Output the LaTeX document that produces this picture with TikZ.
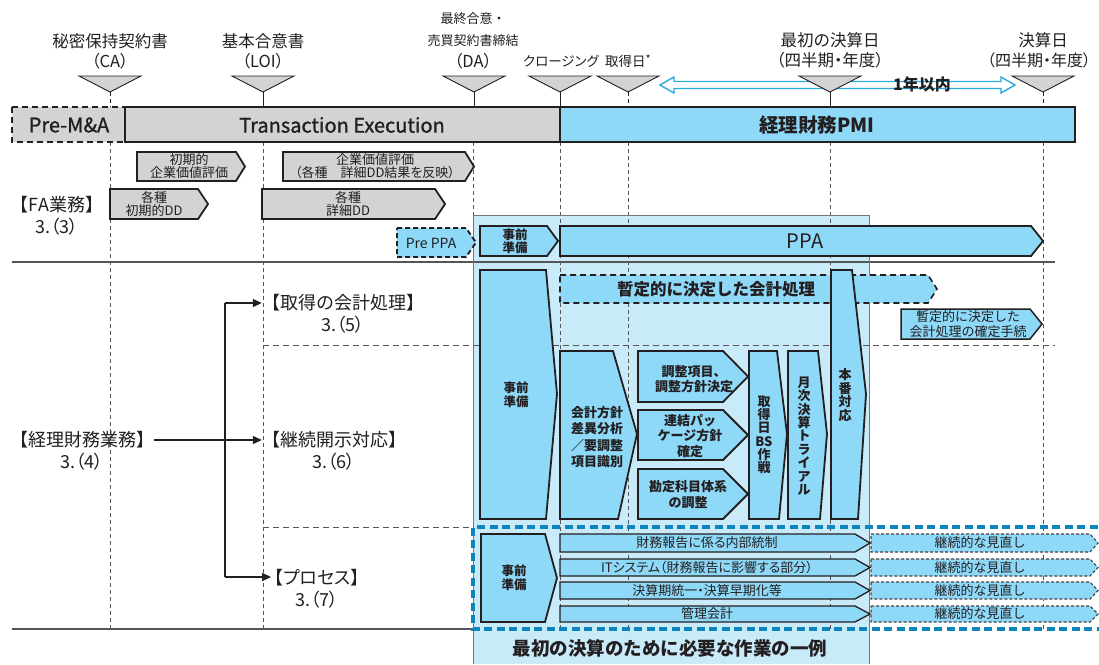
\documentclass[tikz,border=0pt]{standalone}
\usepackage{fontspec}
\setmainfont{Noto Sans CJK JP}
\newfontfamily\medfont{Noto Sans CJK JP}[FakeBold=1.2]
\newfontfamily\pfont{Noto Sans CJK JP}[RawFeature=+palt]
\usetikzlibrary{arrows.meta}
\definecolor{dk}{HTML}{231F20}
\definecolor{gfill}{HTML}{D1D3D4}
\definecolor{bfill}{HTML}{8ED8F8}
\definecolor{lreg}{HTML}{C8EAF9}
\definecolor{framec}{HTML}{0A85BE}
\definecolor{cyanar}{HTML}{29AAE1}
\definecolor{ln}{HTML}{555555}
\newcommand\myfs[2]{\fontsize{#1}{#2}\selectfont}
% pentagon arrow: style, x1, y1, x2(tip), y2, depth
\newcommand\penta[6]{\path[#1] (#2,#3) -- ({#4-#6},#3) -- (#4,{(#3+#5)/2}) -- ({#4-#6},#5) -- (#2,#5) -- cycle;}
\begin{document}
\begin{tikzpicture}[x=1pt,y=-1pt,
  lbl/.style={inner sep=0pt, align=center, text=dk},
  gb/.style={fill=gfill, draw=dk, line width=1.8pt},
  bb/.style={fill=bfill, draw=dk, line width=1.8pt},
  bbt/.style={fill=bfill, draw=dk, line width=1.3pt},
  bbd/.style={fill=bfill, draw=dk, line width=1.9pt, dash pattern=on 5pt off 3pt},
  kz/.style={fill=bfill, draw=dk!85, line width=1.1pt, dash pattern=on 3pt off 2pt},
  vdash/.style={draw=ln, line width=0.9pt, dash pattern=on 4pt off 3pt},
  conn/.style={draw=dk, line width=1.2pt, -{Triangle[length=9pt,width=8pt]}},
  tri/.style={fill=gfill, draw=dk, line width=0.9pt}]
\useasboundingbox (0,0) rectangle (1099,664);
\fill[white] (0,0) rectangle (1099,664);
% light region
\fill[lreg] (473,215) rectangle (869,664);
% vertical dashed lines
\foreach \x in {110,263,560,628,830,1043} \draw[vdash] (\x,142) -- (\x,629);
\draw[vdash] (473,142) -- (473,215);
% horizontal lines
\draw[ln, line width=1.2pt] (12,262) -- (1055,262);
\draw[ln, line width=1.2pt] (12,629) -- (473,629);
\draw[ln, line width=1pt, dash pattern=on 6pt off 4pt] (263,345) -- (1055,345);
\draw[ln, line width=1pt, dash pattern=on 6pt off 4pt] (263,527) -- (473,527);
\draw[ln!80, line width=1pt] (473,664) -- (473,215) -- (869,215) -- (869,664);
% double arrow
\draw[cyanar, line width=1.4pt, fill=white] (660,85) -- (674,77) -- (674,81.5) -- (1001,81.5) -- (1001,77) -- (1015,85) -- (1001,93) -- (1001,88.5) -- (674,88.5) -- (674,93) -- cycle;
\node[lbl, font=\bfseries\myfs{16}{16}] (oneyear) at (922,84) {1年以内};
% triangles
\foreach \x in {110,263,474,560,628,830,1043} \draw[tri] ({\x-31},76) -- ({\x+31},76) -- (\x,92) -- cycle;
\foreach \x in {263,474,560,830} \draw[dk, line width=0.9pt] (\x,92) -- (\x,107);
\foreach \x in {110,628,1043} \draw[dk, line width=0.9pt, dash pattern=on 4pt off 3pt] (\x,92) -- (\x,107);
% header labels
\node[lbl, font=\myfs{16.5}{18}] (ca1) at (110,41) {秘密保持契約書};
\node[lbl, font=\pfont\myfs{16.5}{18}] (ca2) at (110,61) {（CA）};
\node[lbl, font=\myfs{16.5}{18}] (loi1) at (263,41) {基本合意書};
\node[lbl, font=\pfont\myfs{16.5}{18}] (loi2) at (263,61) {（LOI）};
\node[lbl, font=\myfs{13}{14}] (da0) at (473,19) {最終合意・};
\node[lbl, font=\myfs{13}{14}] (da1) at (473,41) {売買契約書締結};
\node[lbl, font=\pfont\myfs{16.5}{18}] (da2) at (473,61) {（DA）};
\node[lbl, font=\pfont\myfs{13.5}{14}] (cl) at (561,61) {クロージング};
\node[lbl, font=\myfs{13.5}{14}] (acq) at (628,61) {取得日\raisebox{3pt}{\myfs{11}{11}*}};
\node[lbl, font=\myfs{16.5}{18}] (fst1) at (830,40) {最初の決算日};
\node[lbl, font=\pfont\myfs{16.5}{18}] (fst2) at (830,60) {（四半期・年度）};
\node[lbl, font=\myfs{16.5}{18}] (fy1) at (1043,40) {決算日};
\node[lbl, font=\pfont\myfs{16}{18}] (fy2) at (1039,60) {（四半期・年度）};
% main bar
\draw[gb, dash pattern=on 6pt off 4pt] (12,107) rectangle (125,142);
\draw[gb] (125,107) rectangle (560,142);
\draw[bb] (560,107) rectangle (1075,142);
\node[lbl, font=\medfont\myfs{20}{20}] (pre) at (69,125) {Pre-M\&A};
\node[lbl, font=\medfont\myfs{20}{20}] (te) at (342,125) {Transaction Execution};
\node[lbl, font=\bfseries\myfs{19.5}{20}] (pmi) at (817,125) {経理財務PMI};
% FA section
\penta{gb}{137}{152}{245}{181}{9}
\penta{gb}{283}{152}{474}{181}{9}
\penta{gb}{110}{189}{208}{219}{10}
\penta{gb}{262}{189}{445}{219}{10}
\penta{bbd}{397}{228}{476}{257}{10}
\penta{bb}{480}{226}{558}{256}{11}
\penta{bb}{560}{226}{1043}{256}{12}
\node[lbl, font=\myfs{13}{13.5}] (fa1) at (189,166) {初期的\\企業価値評価};
\node[lbl, font=\myfs{13}{13.5}] (fa2) at (375,166) {企業価値評価\\{\pfont（各種　詳細DD結果を反映）}};
\node[lbl, font=\myfs{13}{13.5}] (fa3) at (154,204) {各種\\初期的DD};
\node[lbl, font=\myfs{13}{13.5}] (fa4) at (348,204) {各種\\詳細DD};
\node[lbl, font=\myfs{14}{14}] (prepa) at (431,243) {Pre PPA};
\node[lbl, font=\bfseries\myfs{12.5}{13}] (jz1) at (515,241) {事前\\準備};
\node[lbl, font=\myfs{20}{20}] (ppa) at (805,241) {PPA};
\node[lbl, font=\myfs{18}{22}] (fa) at (57,215.5) {【FA業務】\\{\pfont 3.（3）}};
% accounting section shapes
\penta{fill=bfill, draw=dk, line width=1.6pt, dash pattern=on 6pt off 4pt}{560}{275}{937}{303}{9}
\node[lbl, font=\bfseries\myfs{16.5}{18}] (zantei) at (716,289) {暫定的に決定した会計処理};
\penta{fill=bfill, draw=dk, line width=1.5pt}{901}{309}{1042}{339}{12}
\node[lbl, font=\myfs{13}{14.5}] (kakutei) at (968,324) {暫定的に決定した\\会計処理の確定手続};
\draw[bb] (480,270) -- (546,270) -- (557,394) -- (546,519) -- (480,519) -- cycle;
\draw[bb] (560,351) -- (613,351) -- (637,434) -- (618,519) -- (560,519) -- cycle;
\penta{bb}{638}{351}{748}{402}{25}
\penta{bb}{638}{410}{748}{460}{25}
\penta{bb}{638}{469}{748}{519}{25}
\draw[bb] (749,351) -- (777,351) -- (787,434) -- (779,519) -- (749,519) -- cycle;
\draw[bb] (788,351) -- (818,351) -- (827,434) -- (820,519) -- (788,519) -- cycle;
\draw[bb] (831,270) -- (852,270) -- (866,394) -- (858,519) -- (831,519) -- cycle;
\node[lbl, font=\bfseries\myfs{12.5}{14}] (jz2) at (516,395) {事前\\準備};
\node[lbl, font=\bfseries\myfs{13}{16.5}] (hoshin) at (597,437) {会計方針\\差異分析\\／要調整\\項目識別};
\node[lbl, font=\bfseries\myfs{13}{14.5}] (chosei) at (694,379) {調整項目、\\調整方針決定};
\node[lbl, font=\bfseries\myfs{13}{15.5}] (renketsu) at (690,436) {連結パッ\\ケージ方針\\確定};
\node[lbl, font=\bfseries\myfs{13}{16}] (kanjo) at (688,495) {勘定科目体系\\の調整};
\node[lbl, font=\bfseries\myfs{13}{13.3}] (bs) at (764,435) {取\\得\\日\\BS\\作\\戦};
\node[lbl, font=\bfseries\myfs{13}{13.4}] (getsuji) at (804,436) {月\\次\\決\\算\\ト\\ラ\\イ\\ア\\ル};
\node[lbl, font=\bfseries\myfs{13}{13.4}] (honban) at (845,395) {本\\番\\対\\応};
% process section
\draw[bb] (481,534) -- (545,534) -- (557,578) -- (545,622) -- (481,622) -- cycle;
\node[lbl, font=\bfseries\myfs{12.5}{14}] (jz3) at (514,578) {事前\\準備};
\foreach \a/\b/\t [count=\i] in {534/552/財務報告に係る内部統制, 559/576/ITシステム（財務報告に影響する部分）, 582/599/決算期統一・決算早期化等, 606/622/管理会計}{
  \penta{bbt}{560}{\a}{870}{\b}{15}
  \penta{kz}{871}{\a}{1098}{\b}{8}
  \node[lbl, font=\pfont\myfs{13}{14}] (row\i) at (707,{(\a+\b)/2}) {\t};
  \node[lbl, font=\myfs{13}{14}] (mn\i) at (980,{(\a+\b)/2}) {継続的な見直し};
}
\draw[framec, line width=3.2pt, dash pattern=on 8pt off 4.5pt] (1110,527) -- (473,527) -- (473,629) -- (1110,629);
\node[lbl, font=\bfseries\myfs{18.5}{20}] (rei) at (670,648) {最初の決算のために必要な作業の一例};
% left labels
\node[lbl, font=\myfs{18}{22}] (keiri) at (82,451) {【経理財務業務】\\{\pfont 3.（4）}};
\node[lbl, font=\myfs{18}{22}] (shutoku) at (343,314) {【取得の会計処理】\\{\pfont 3.（5）}};
\node[lbl, font=\myfs{18}{22}] (keizoku) at (334,451) {【継続開示対応】\\{\pfont 3.（6）}};
\node[lbl, font=\pfont\myfs{18}{22}] (process) at (317,588.5) {【プロセス】\\3.（7）};
\coordinate (jt) at (225,440);
\coordinate (t1) at (225,303);
\coordinate (t3) at (225,577);
\draw[conn] (keiri.east |- jt) -- (keizoku.west |- jt);
\draw[dk, line width=1.2pt] (t1) -- (t3);
\draw[conn] (t1) -- (shutoku.west |- t1);
\draw[conn] (t3) -- ([xshift=-3pt]process.west |- t3);
\end{tikzpicture}
\end{document}
